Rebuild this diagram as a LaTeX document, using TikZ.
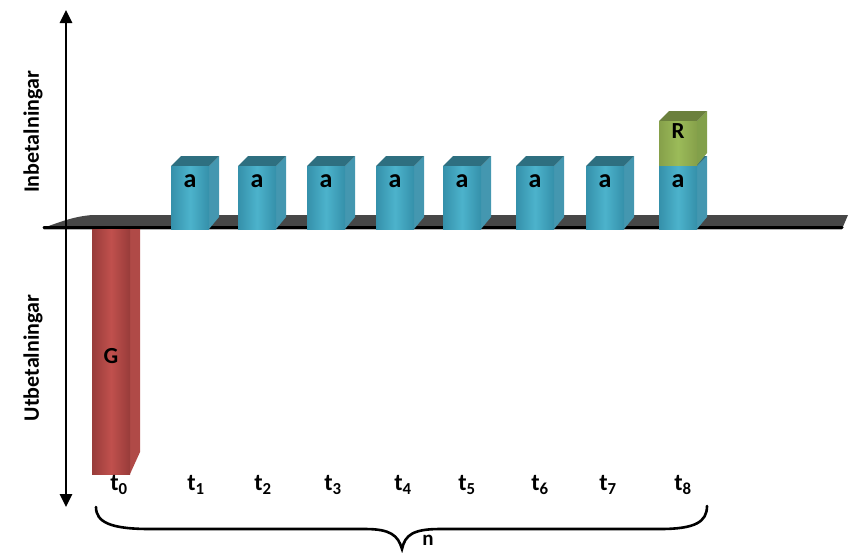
\documentclass[tikz,border=0pt]{standalone}
\usepackage{fontspec}
\setmainfont{Carlito}
\usetikzlibrary{arrows.meta}
\definecolor{bluedark}{HTML}{3590AA}
\definecolor{bluelight}{HTML}{4CB3CC}
\definecolor{bluetop}{HTML}{2E6F80}
\definecolor{blueside}{HTML}{4497B0}
\definecolor{reddark}{HTML}{983C3A}
\definecolor{redlight}{HTML}{C0504D}
\definecolor{redside}{HTML}{B04A47}
\definecolor{greendark}{HTML}{86A04A}
\definecolor{greenlight}{HTML}{9BBB59}
\definecolor{greentop}{HTML}{6B803D}
\definecolor{greenside}{HTML}{82A04A}
\definecolor{slabgray}{HTML}{474747}
\newcommand\drawcuboid[7]{%
  \fill[#7] (#1+38,#3) -- (#1+38,#2) -- (#1+48,#2-10) -- (#1+48,#3-12) -- cycle;
  \fill[#6] (#1,#2) -- (#1+10,#2-10) -- (#1+48,#2-10) -- (#1+38,#2) -- cycle;
  \shade[left color=#4, right color=#4, middle color=#5] (#1,#2) rectangle (#1+38,#3);
}
\tikzset{
  lbl/.style={font=\fontsize{23}{27}\selectfont\bfseries, inner sep=0pt},
  albl/.style={font=\fontsize{26}{29}\selectfont\bfseries, inner sep=0pt},
  tlbl/.style={font=\fontsize{24}{28}\selectfont\bfseries, inner sep=0pt},
  axlbl/.style={font=\fontsize{22}{26}\selectfont\bfseries, inner sep=0pt, rotate=90},
  axis/.style={line width=2.6pt, {Triangle[width=12pt,length=13pt]}-{Triangle[width=12pt,length=13pt]}},
  brace/.style={line width=2.6pt, line cap=round},
}
\begin{document}
\begin{tikzpicture}[x=1pt,y=-1pt]
\useasboundingbox (0,0) rectangle (850,552);
% slab
\fill[slabgray] (43,228) .. controls (60,222) and (75,216) .. (93,215) -- (848,215) -- (842,229) -- (43,229) -- cycle;
\draw[black, line width=3pt, line cap=round] (44,227) -- (842,227);
\draw[gray!60, line width=0.8pt] (44,229.6) -- (842,229.6);
% red bar
\fill[redside] (130,229) -- (140,229) -- (140,452) -- (130,474) -- cycle;
\shade[left color=reddark, right color=reddark, middle color=redlight] (92,229) rectangle (130,474);
\node[lbl] (G) at (111,356) {G};
% blue boxes
\foreach \x [count=\i] in {171,238,307,376,443,516,586,659} {
  \drawcuboid{\x}{166}{229}{bluedark}{bluelight}{bluetop}{blueside}
  \node[albl] (a\i) at (\x+19,181) {a};
}
% green box
\drawcuboid{659}{121}{165}{greendark}{greenlight}{greentop}{greenside}
\node[lbl] (R) at (678,131) {R};
% axis
\coordinate (top) at (66,10);
\coordinate (bot) at (66,507);
\draw[axis] (bot) -- (top);
\node[axlbl] (inb) at (33,132) {Inbetalningar};
\node[axlbl] (utb) at (33,358) {Utbetalningar};
% time labels
\foreach \x [count=\i from 0] in {119,196,263,333,403,467,540,608,683} {
  \node[tlbl] (t\i) at (\x,485) {t\textsubscript{\i}};
}
% brace
\coordinate (bl) at (96,507);
\coordinate (bm) at (402,549);
\coordinate (br) at (707,506);
\draw[brace] (bl) .. controls (96,522) and (110,529) .. (150,529) -- (365,529)
  .. controls (390,529) and (398,535) .. (bm)
  .. controls (405,535) and (413,529) .. (440,529) -- (660,529)
  .. controls (695,529) and (707,522) .. (br);
\node[font=\fontsize{21}{25}\selectfont\bfseries, inner sep=0pt] (n) at (428,540) {n};
\end{tikzpicture}
\end{document}
